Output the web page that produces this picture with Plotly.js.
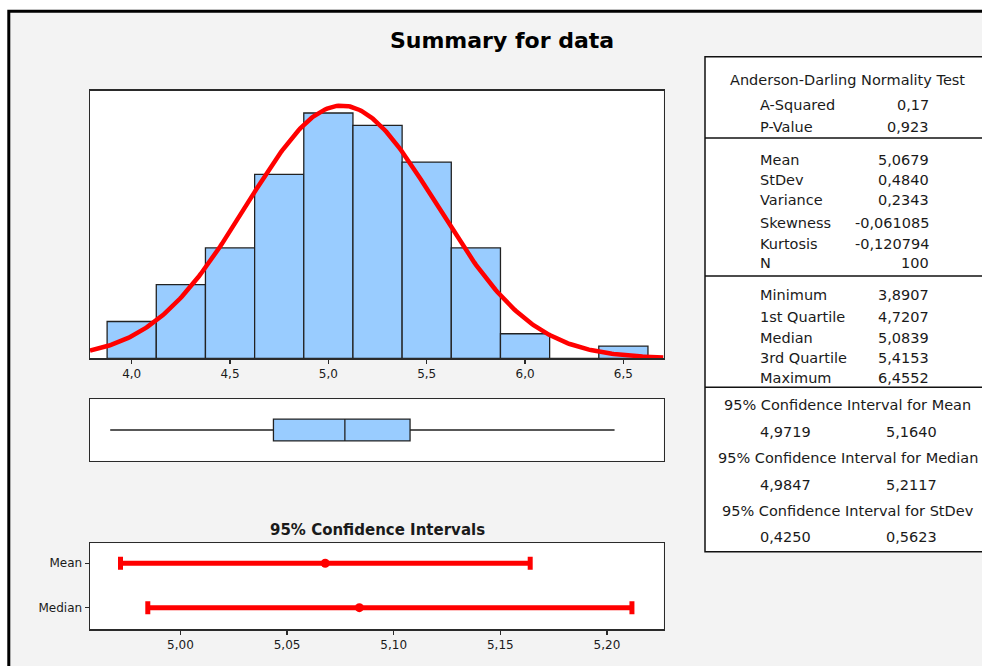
<!DOCTYPE html>
<html>
<head>
<meta charset="utf-8">
<script src="https://cdn.plot.ly/plotly-3.0.1.min.js"></script>
<style>
  html, body { margin: 0; padding: 0; background: #ffffff; }
  #chart { width: 982px; height: 666px; }
</style>
</head>
<body>
<div id="chart"></div>
<script>
// ---- Histogram: bin centres and counts ----
const binCenters = [4.00, 4.25, 4.50, 4.75, 5.00, 5.25, 5.50, 5.75, 6.00, 6.25, 6.50];
const binCounts  = [3, 6, 9, 15, 20, 19, 16, 9, 2, 0, 1];
const binWidth = 0.25;

// ---- Descriptive statistics ----
const nObs = 100;
const aSquared = 0.17;
const pValue = 0.923;
const mean = 5.0679;
const stdev = 0.4840;
const variance = 0.2343;
const skewness = -0.061085;
const kurtosis = -0.120794;
const minimum = 3.8907;
const quartile1 = 4.7207;
const median = 5.0839;
const quartile3 = 5.4153;
const maximum = 6.4552;
const ciMean = [4.9719, 5.1640];
const ciMedian = [4.9847, 5.2117];
const ciStdev = [0.4250, 0.5623];

// ---- Confidence-interval panel ----
const ciLabels = ['Mean', 'Median'];
const ciCenters = [mean, median];
const ciBounds = [ciMean, ciMedian];

// ---- Tick labels ----
const histTicks = [4.0, 4.5, 5.0, 5.5, 6.0, 6.5];
const ciTicks = [5.00, 5.05, 5.10, 5.15, 5.20];

// ---- Page geometry helpers (pixels -> paper fractions) ----
const W = 982, H = 666;
const fx = p => p / W;
const fy = p => 1 - p / H;
const fmt = (v, d) => v.toFixed(d).replace('.', ',');

const histRange = [3.788, 6.704];
const ciRange = [4.9576, 5.2265];
const panelX = [fx(90), fx(663.5)];

// Fitted normal curve, scaled to counts (N * bin width * density)
const curveX = [], curveY = [];
const steps = 300;
for (let i = 0; i <= steps; i++) {
  const x = histRange[0] + (histRange[1] - histRange[0]) * i / steps;
  const z = (x - mean) / stdev;
  curveX.push(x);
  curveY.push(nObs * binWidth * Math.exp(-0.5 * z * z) / (stdev * Math.sqrt(2 * Math.PI)));
}

const ink = '#1a1a1a';
const frame = '#2a2a2a';
const barBlue = '#99CCFF';
const sans = 'DejaVu Sans, Verdana, sans-serif';

const traces = [
  {
    type: 'bar', x: binCenters, y: binCounts, width: binWidth,
    marker: { color: barBlue, line: { color: '#222222', width: 1.3 } },
    xaxis: 'x', yaxis: 'y', hoverinfo: 'skip'
  },
  {
    type: 'scatter', mode: 'lines', x: curveX, y: curveY,
    line: { color: '#ff0000', width: 4.5 }, xaxis: 'x', yaxis: 'y',
    hoverinfo: 'skip', cliponaxis: true
  },
  {
    type: 'box', orientation: 'h', y: [0],
    q1: [quartile1], median: [median], q3: [quartile3],
    lowerfence: [minimum], upperfence: [maximum],
    fillcolor: barBlue, line: { color: '#222222', width: 1.3 },
    whiskerwidth: 0, width: 0.71, boxpoints: false,
    xaxis: 'x2', yaxis: 'y2', hoverinfo: 'skip'
  },
  {
    type: 'scatter', mode: 'markers', x: ciCenters, y: ciLabels,
    marker: { color: '#ff0000', size: 9 },
    error_x: {
      type: 'data', symmetric: false,
      array: ciBounds.map((b, i) => b[1] - ciCenters[i]),
      arrayminus: ciBounds.map((b, i) => ciCenters[i] - b[0]),
      color: '#ff0000', thickness: 5, width: 6.5
    },
    xaxis: 'x3', yaxis: 'y3', hoverinfo: 'skip'
  }
];

const boxedAxis = {
  showline: true, mirror: true, linecolor: frame, linewidth: 1.5,
  showgrid: false, zeroline: false, fixedrange: true
};
const tickFont = { family: sans, size: 12, color: ink };

// ---- Statistics table ----
const tableLeft = 705, labelX = 758, valueX = 931, secondX = 884, centerX = 847.5;
const headerRows = [
  ['Anderson-Darling Normality Test', 80]
];
const statRows = [
  ['A-Squared', fmt(aSquared, 2), 105],
  ['P-Value', fmt(pValue, 3), 127],
  ['Mean', fmt(mean, 4), 160],
  ['StDev', fmt(stdev, 4), 180],
  ['Variance', fmt(variance, 4), 200],
  ['Skewness', fmt(skewness, 6), 223],
  ['Kurtosis', fmt(kurtosis, 6), 244],
  ['N', String(nObs), 263],
  ['Minimum', fmt(minimum, 4), 295],
  ['1st Quartile', fmt(quartile1, 4), 317],
  ['Median', fmt(median, 4), 338],
  ['3rd Quartile', fmt(quartile3, 4), 358],
  ['Maximum', fmt(maximum, 4), 378]
];
const ciRows = [
  ['95% Confidence Interval for Mean', ciMean, 405, 432],
  ['95% Confidence Interval for Median', ciMedian, 458, 485],
  ['95% Confidence Interval for StDev', ciStdev, 511, 537]
];
const separators = [138, 276, 387.3];

const tableFont = { family: sans, size: 14.5, color: ink };
const annotations = [];
headerRows.forEach(([t, y]) => annotations.push({
  text: t, x: fx(centerX), y: fy(y), xanchor: 'center', yanchor: 'middle', font: tableFont
}));
statRows.forEach(([lab, val, y]) => {
  annotations.push({ text: lab, x: fx(labelX), y: fy(y), xanchor: 'left', yanchor: 'middle', font: tableFont });
  annotations.push({ text: val, x: fx(valueX), y: fy(y), xanchor: 'right', yanchor: 'middle', font: tableFont });
});
ciRows.forEach(([t, b, yh, yv]) => {
  annotations.push({ text: t, x: fx(centerX), y: fy(yh), xanchor: 'center', yanchor: 'middle', font: tableFont });
  annotations.push({ text: fmt(b[0], 4), x: fx(labelX), y: fy(yv), xanchor: 'left', yanchor: 'middle', font: tableFont });
  annotations.push({ text: fmt(b[1], 4), x: fx(secondX), y: fy(yv), xanchor: 'left', yanchor: 'middle', font: tableFont });
});
annotations.push({
  text: '95% Confidence Intervals', x: fx(377), y: fy(530), xanchor: 'center', yanchor: 'middle',
  font: { family: sans, size: 15, color: ink, weight: 'bold' }
});
annotations.forEach(a => { a.xref = 'paper'; a.yref = 'paper'; a.showarrow = false; });

const shapes = [
  // white margin outside the outer frame
  { type: 'rect', xref: 'paper', yref: 'paper', x0: 0, x1: 1, y0: fy(10), y1: 1,
    fillcolor: '#ffffff', line: { width: 0 }, layer: 'above' },
  { type: 'rect', xref: 'paper', yref: 'paper', x0: 0, x1: fx(7.5), y0: 0, y1: 1,
    fillcolor: '#ffffff', line: { width: 0 }, layer: 'above' },
  // outer frame
  { type: 'rect', xref: 'paper', yref: 'paper', x0: fx(8.8), x1: fx(1010), y0: fy(700), y1: fy(11.3),
    fillcolor: 'rgba(0,0,0,0)', line: { color: '#000000', width: 3 }, layer: 'above' },
  // statistics table box
  { type: 'rect', xref: 'paper', yref: 'paper', x0: fx(tableLeft), x1: fx(1010), y0: fy(551.7), y1: fy(56.7),
    fillcolor: '#ffffff', line: { color: '#111111', width: 1.5 }, layer: 'below' }
];
separators.forEach(y => shapes.push({
  type: 'line', xref: 'paper', yref: 'paper', x0: fx(tableLeft), x1: fx(1010), y0: fy(y), y1: fy(y),
  line: { color: '#111111', width: 1.5 }, layer: 'above'
}));

const layout = {
  width: W, height: H,
  margin: { l: 0, r: 0, t: 0, b: 0 },
  paper_bgcolor: '#f3f3f3', plot_bgcolor: '#ffffff',
  separators: ',.',
  showlegend: false,
  title: {
    text: 'Summary for data', x: fx(502), y: fy(40), xanchor: 'center', yanchor: 'middle',
    xref: 'paper', yref: 'paper',
    font: { family: sans, size: 22, color: '#000000', weight: 'bold' }
  },
  xaxis: Object.assign({}, boxedAxis, {
    domain: panelX, range: histRange, anchor: 'y',
    tickvals: histTicks, tickformat: '.1f', ticks: 'outside', ticklen: 4, tickwidth: 1.2,
    tickcolor: frame, tickfont: tickFont
  }),
  yaxis: Object.assign({}, boxedAxis, {
    domain: [fy(358.3), fy(90.7)], range: [0, 21.82], anchor: 'x',
    showticklabels: false, ticks: ''
  }),
  xaxis2: Object.assign({}, boxedAxis, {
    domain: panelX, range: histRange, anchor: 'y2', showticklabels: false, ticks: ''
  }),
  yaxis2: Object.assign({}, boxedAxis, {
    domain: [fy(460.7), fy(399.3)], range: [-1, 1], anchor: 'x2', showticklabels: false, ticks: ''
  }),
  xaxis3: Object.assign({}, boxedAxis, {
    domain: panelX, range: ciRange, anchor: 'y3',
    tickvals: ciTicks, tickformat: '.2f', ticks: 'outside', ticklen: 4, tickwidth: 1.2,
    tickcolor: frame, tickfont: tickFont
  }),
  yaxis3: Object.assign({}, boxedAxis, {
    domain: [fy(629), fy(543.3)], anchor: 'x3', type: 'category',
    categoryorder: 'array', categoryarray: ciLabels, range: [1.48, -0.45],
    ticks: 'outside', ticklen: 4, tickwidth: 1.2, tickcolor: frame, tickfont: tickFont
  }),
  annotations: annotations,
  shapes: shapes
};

Plotly.newPlot('chart', traces, layout, { displayModeBar: false, staticPlot: true });
</script>
</body>
</html>
